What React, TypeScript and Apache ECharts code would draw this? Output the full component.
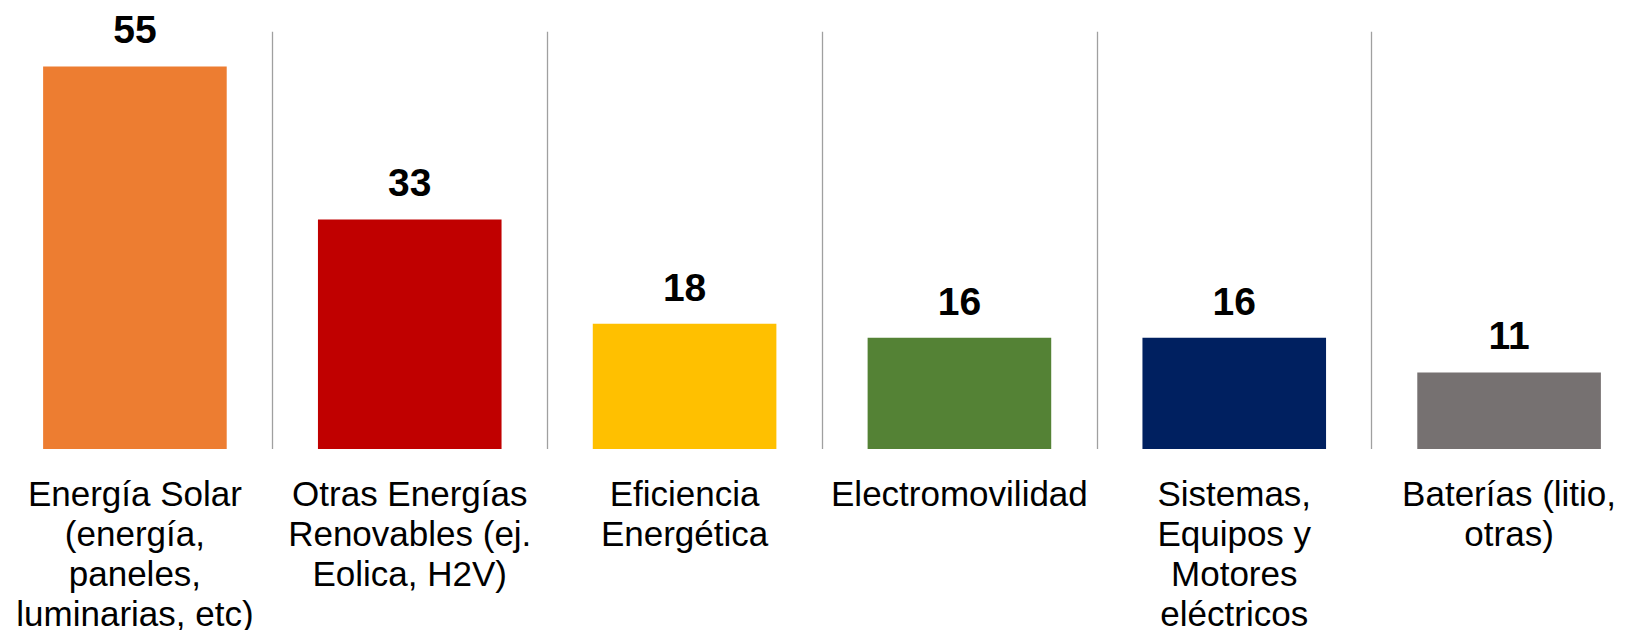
import React, { useEffect, useRef } from "react";
import * as echarts from "echarts";

const categories: string[] = [
  "Energía Solar\n(energía,\npaneles,\nluminarias, etc)",
  "Otras Energías\nRenovables (ej.\nEolica, H2V)",
  "Eficiencia\nEnergética",
  "Electromovilidad",
  "Sistemas,\nEquipos y\nMotores\neléctricos",
  "Baterías (litio,\notras)",
];
const values: number[] = [55, 33, 18, 16, 16, 11];
const barColors: string[] = ["#ED7D31", "#C00000", "#FFC000", "#548235", "#002060", "#767171"];

export default function App() {
  const ref = useRef<HTMLDivElement>(null);
  useEffect(() => {
    document.body.style.margin = "0";
    if (!ref.current) return;
    const chart = echarts.init(ref.current, undefined, { renderer: "svg" });
    chart.setOption({
      animation: false,
      backgroundColor: "#ffffff",
      textStyle: { fontFamily: "Liberation Sans, Arial, sans-serif" },
      grid: {
        left: -2.5,
        width: 1649,
        top: 31.7,
        bottom: 181,
        containLabel: false,
        outerBoundsMode: "none",
      },
      xAxis: {
        type: "category",
        data: categories,
        axisLine: { show: false },
        axisTick: { show: false },
        splitLine: { show: true, lineStyle: { color: "#a0a0a0", width: 1.3 } },
        axisLabel: {
          interval: 0,
          color: "#000000",
          fontSize: 35,
          lineHeight: 40,
          margin: 24,
          fontFamily: "Liberation Sans, Arial, sans-serif",
        },
      },
      yAxis: {
        type: "value",
        min: 0,
        max: 60,
        show: false,
        splitLine: { show: false },
      },
      series: [
        {
          type: "bar",
          data: values.map((v, i) => ({ value: v, itemStyle: { color: barColors[i] } })),
          barWidth: 183.6,
          label: {
            show: true,
            position: "top",
            distance: 17,
            color: "#000000",
            fontWeight: "bold",
            fontSize: 39,
            fontFamily: "Liberation Sans, Arial, sans-serif",
          },
        },
      ],
    });
    return () => chart.dispose();
  }, []);
  return <div ref={ref} style={{ width: 1625, height: 630 }} />;
}
